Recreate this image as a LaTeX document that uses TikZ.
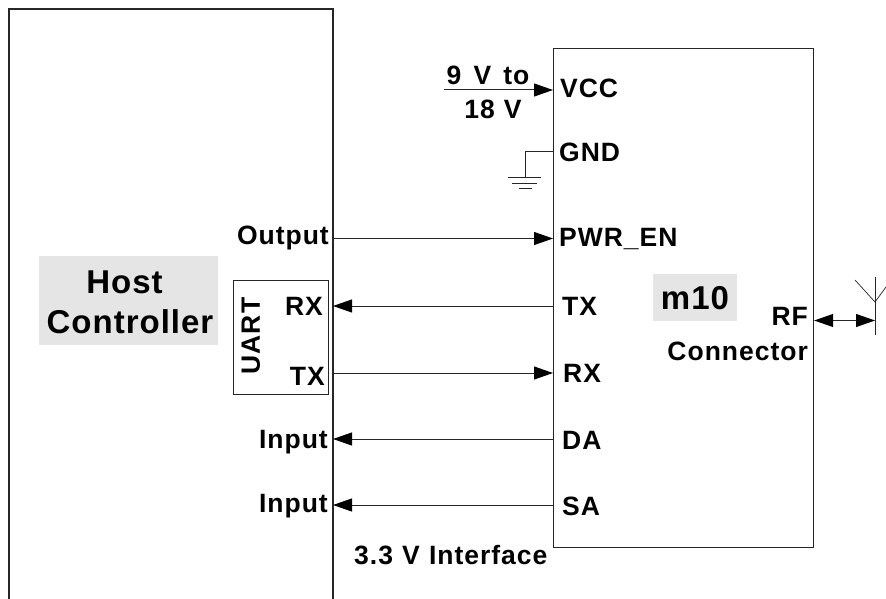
\documentclass[tikz,border=0pt]{standalone}
\usepackage{fontspec}
\setmainfont{Liberation Sans}
\newfontfamily\labfont[LetterSpace=3.7,WordSpace=1.1]{Liberation Sans Bold}
\newfontfamily\bigfont[LetterSpace=3]{Liberation Sans Bold}
\usetikzlibrary{arrows.meta}
\tikzset{
  wire/.style={line width=1pt,black!85},
  sig/.style={wire,-{Triangle[length=19pt,width=13pt,color=black]}},
  box/.style={draw=black!85,line width=1.2pt,inner sep=0pt,anchor=north west},
  shade/.style={fill=black!10,inner sep=0pt,anchor=north west,align=center},
  lab/.style={font=\fontsize{26.5}{27}\labfont,inner sep=0pt},
  big/.style={font=\fontsize{33}{40}\bigfont,inner sep=0pt},
}
\begin{document}
\begin{tikzpicture}[x=1pt,y=-1pt]
\useasboundingbox (0,0) rectangle (886,599);
% Host box, open at the bottom
\coordinate (hb) at (333,599);
\coordinate (ht) at (333,9);
\draw[wire,line width=1.2pt] (9,599) -- (9,9) -- (ht) -- (hb);
\node[shade,minimum width=179pt,minimum height=89pt] (hostshade) at (39,256) {};
\node[big,align=center] (host) at (130,302) {Host\hbox to 11pt{}\\Controller};
\node[box,minimum width=260pt,minimum height=499pt] (m) at (553,48) {};
\node[shade,minimum width=84pt,minimum height=47pt] (mshade) at (653,274) {};
\node[big] (m10) at (695,298) {m10};
\node[box,minimum width=95pt,minimum height=114pt] (uart) at (233,280) {};
\node[lab,rotate=90] (uartl) at (251,336) {UART};
\node[lab,anchor=east] (urx) at (323,306) {RX};
\node[lab,anchor=east] (utx) at (325,376) {TX};
\node[lab,anchor=east] (out) at (329,238) {Output};
\node[lab,anchor=east] (in1) at (328,442) {Input};
\node[lab,anchor=east] (in2) at (328,506) {Input};
\node[lab,anchor=west] (vcc) at (560,88) {VCC};
\node[lab,anchor=west] (gnd) at (559,152) {GND};
\node[lab,anchor=west] (pwr) at (559,239) {PWR\_EN};
\node[lab,anchor=west] (tx) at (562,306) {TX};
\node[lab,anchor=west] (rx) at (563,373) {RX};
\node[lab,anchor=west] (da) at (562,440) {DA};
\node[lab,anchor=west] (sa) at (562,506) {SA};
\node[lab,anchor=east] (rf) at (808,316) {RF};
\node[lab,anchor=east] (conn) at (808,351) {Connector};
\node[lab] (v9) at (488,75) {9\hspace{3pt} V\hspace{3pt} to};
\node[lab] (v18) at (493,109) {18 V};
\node[lab,anchor=west] (iface) at (354,555) {3.3 V Interface};
% connectors
\coordinate (vin) at (444,90);
\draw[sig] (vin) -- (vin-|m.west);
\coordinate (gp) at (553,152);
\coordinate (gc) at (525,152);
\coordinate (gb) at (525,177);
\draw[wire] (gp) -- (gc) -- (gb);
\coordinate (g1) at (508,177); \coordinate (g2) at (541,177);
\coordinate (g3) at (512,183); \coordinate (g4) at (537,183);
\coordinate (g5) at (519,188); \coordinate (g6) at (532,188);
\draw[wire] (g1) -- (g2) (g3) -- (g4) (g5) -- (g6);
\coordinate (c1) at (333,238.5); \draw[sig] (c1) -- (c1-|m.west);
\coordinate (c2) at (333,306); \draw[sig] (c2-|m.west) -- (c2);
\coordinate (c3) at (333,373); \draw[sig] (c3) -- (c3-|m.west);
\coordinate (c4) at (333,439); \draw[sig] (c4-|m.west) -- (c4);
\coordinate (c5) at (333,505); \draw[sig] (c5-|m.west) -- (c5);
% RF and antenna
\coordinate (af) at (875,320.5);
\coordinate (at) at (875,277);
\coordinate (ab) at (875,335);
\coordinate (aj) at (875,302);
\coordinate (al) at (855,280);
\coordinate (ar) at (886,287);
\draw[wire,{Triangle[length=19pt,width=13pt,color=black]}-{Triangle[length=19pt,width=13pt,color=black]}] (af-|m.east) -- (af);
\draw[wire] (at) -- (ab);
\draw[wire,line width=.7pt] (al) -- (aj) -- (ar);
\end{tikzpicture}
\end{document}
